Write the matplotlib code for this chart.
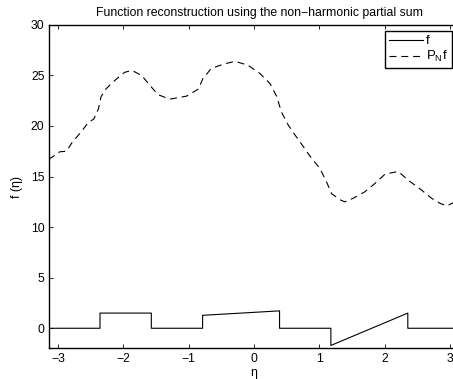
import numpy as np
import matplotlib
matplotlib.use('Agg')
import matplotlib.pyplot as plt

plt.rcParams['font.family'] = ['Liberation Sans', 'DejaVu Sans']
plt.rcParams['font.size'] = 8.8
plt.rcParams['lines.scale_dashes'] = False
plt.rcParams['mathtext.fontset'] = 'custom'
plt.rcParams['mathtext.rm'] = 'Liberation Sans'

pi = np.pi

# f : piecewise function (jumps drawn as repeated x values)
f_x = [-pi, -3*pi/4, -3*pi/4, -pi/2, -pi/2, -pi/4, -pi/4, pi/8, pi/8,
       3*pi/8, 3*pi/8, 3*pi/4, 3*pi/4, pi]
f_y = [0, 0, 1.5, 1.5, 0, 0, 1.28, 1.72, 0,
       0, -1.7, 1.5, 0, 0]

# P_N f : partial sum
pn_x = [-3.14, -2.97, -2.87, -2.79, -2.66, -2.54, -2.45, -2.38, -2.34, -2.26,
        -2.13, -1.98, -1.87, -1.72, -1.59, -1.47, -1.29, -1.16, -1.03, -0.85,
        -0.78, -0.65, -0.47, -0.29, -0.09, 0.09, 0.245, 0.35, 0.42, 0.525,
        0.63, 0.73, 0.86, 1.01, 1.11, 1.19, 1.32, 1.39, 1.52, 1.70,
        1.85, 2.01, 2.21, 2.36, 2.54, 2.72, 2.85, 2.95, 3.05, 3.14]
pn_y = [16.7, 17.45, 17.5, 18.3, 19.3, 20.3, 20.7, 21.7, 22.9, 23.7,
        24.5, 25.3, 25.5, 25.0, 24.0, 23.1, 22.65, 22.8, 22.95, 23.65,
        24.7, 25.7, 26.1, 26.4, 26.0, 25.2, 24.2, 22.9, 21.4, 20.1,
        19.1, 18.2, 17.0, 15.8, 14.5, 13.3, 12.7, 12.5, 12.85, 13.5,
        14.3, 15.25, 15.5, 14.65, 13.8, 12.85, 12.35, 12.1, 12.4, 12.6]

xticks = [-3, -2, -1, 0, 1, 2, 3]
yticks = [0, 5, 10, 15, 20, 25, 30]

fig = plt.figure(figsize=(4.53, 3.79), dpi=100)
ax = fig.add_axes([0.1075, 0.0805, 0.906, 0.854])

ax.plot(f_x, f_y, color='black', lw=0.8, label='f')
ax.plot(pn_x, pn_y, color='black', lw=0.8, linestyle=(0, (5, 3.5)),
        label=r'P$_\mathrm{N}$f')

ax.set_xlim(-pi, pi)
ax.set_ylim(-2, 30)
ax.set_xticks(xticks)
ax.set_yticks(yticks)
ax.tick_params(direction='in', length=3, width=0.6, top=True, right=True,
               labelsize=8.8, pad=3)
for s in ax.spines.values():
    s.set_linewidth(1.0)

ax.set_title('Function reconstruction using the non\u2212harmonic partial sum',
             fontsize=8.8, pad=6, x=0.514)
ax.set_xlabel('\u03b7', fontsize=8.8, labelpad=2)
ax.set_ylabel('f (\u03b7)', fontsize=8.8, labelpad=6)

leg = ax.legend(loc='upper left', bbox_to_anchor=(385/453, 1 - 31/379),
                bbox_transform=fig.transFigure, fancybox=False,
                edgecolor='black', framealpha=1, fontsize=9.5,
                handlelength=2.6, handletextpad=0.2, borderpad=0.3,
                labelspacing=0.15, borderaxespad=0)
leg.get_frame().set_linewidth(1.0)

fig.savefig('out.png', dpi=100)
